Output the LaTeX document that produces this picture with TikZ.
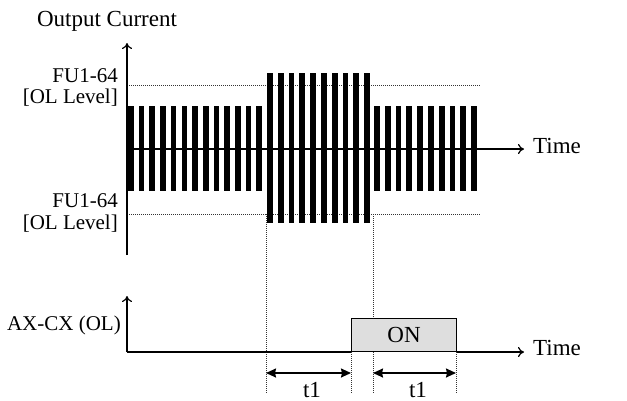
\documentclass[tikz,border=0pt]{standalone}
\usepackage{fontspec}
\setmainfont{Liberation Serif}
\usetikzlibrary{arrows.meta}
\begin{document}
\begin{tikzpicture}[x=1pt,y=-1pt,
  every node/.style={font=\fontsize{21}{25}\selectfont, inner sep=0pt},
  bigtext/.style={font=\fontsize{23}{27}\selectfont},
  axarrow/.style={line width=1.8pt,-{To[length=6pt,width=10pt,line width=1.2pt]}},
  timearrow/.style={line width=1.8pt,-{To[length=6pt,width=10pt,line width=1.2pt]}},
  plainline/.style={line width=1.8pt},
  dotline/.style={line width=0.9pt, dash pattern=on 1pt off 1pt, black!80},
  dimarrow/.style={line width=1.6pt,{Stealth[length=10pt,width=9pt,inset=1pt]}-{Stealth[length=10pt,width=9pt,inset=1pt]}},
  bar/.style={fill=black},
  onbox/.style={draw=black, line width=1.2pt, fill=black!13, minimum width=105pt, minimum height=33pt, anchor=south west, bigtext}]
\useasboundingbox (0,0) rectangle (627,400);
% coordinates
\coordinate (o1) at (127,255);
\coordinate (t1top) at (127,43);
\coordinate (m0) at (127,149);
\coordinate (m1) at (524,149);
\coordinate (o2) at (127,352);
\coordinate (t2top) at (127,296);
\coordinate (e2) at (524,352);
\coordinate (ul0) at (127,85);
\coordinate (ul1) at (480,85);
\coordinate (ll0) at (127,214);
\coordinate (ll1) at (480,214);
\coordinate (va0) at (266,214);
\coordinate (va1) at (266,393);
\coordinate (vb0) at (373,214);
\coordinate (vb1) at (373,393);
\coordinate (vc0) at (351,352);
\coordinate (vc1) at (351,393);
\coordinate (vd0) at (456,352);
\coordinate (vd1) at (456,393);
\coordinate (d1a) at (266,373);
\coordinate (d1b) at (351,373);
\coordinate (d2a) at (373,373);
\coordinate (d2b) at (456,373);
% dotted guides
\draw[dotline] (ul0) -- (ul1);
\draw[dotline] (ll0) -- (ll1);
\draw[dotline] (va0) -- (va1);
\draw[dotline] (vb0) -- (vb1);
\draw[dotline] (vc0) -- (vc1);
\draw[dotline] (vd0) -- (vd1);
% bars
\foreach \i in {0,...,12} { \fill[bar] (128+10.7*\i,106) rectangle ++(5.6,85); }
\foreach \i in {0,...,9} { \fill[bar] (267+10.8*\i,73) rectangle ++(5.7,150); }
\foreach \i in {0,...,9} { \fill[bar] (374+10.8*\i,106) rectangle ++(5.7,85); }
% axes
\draw[axarrow] (o1) -- (t1top);
\draw[timearrow] (m0) -- (m1);
\draw[axarrow] (o2) -- (t2top);
% ON box
\node[onbox] (on) at (351,352) {ON};
\draw[plainline] (o2) -- (on.south west);
\draw[timearrow] (on.south east) -- (e2);
% dimension arrows
\draw[dimarrow] (d1a) -- (d1b);
\draw[dimarrow] (d2a) -- (d2b);
% labels
\node[bigtext] (title) at (107,21) {Output Current};
\node[anchor=east] (fu1) at (118,76) {FU1-64};
\node[anchor=east] (ol1) at (118,98) {[OL Level]};
\node[anchor=east] (fu2) at (118,201) {FU1-64};
\node[anchor=east] (ol2) at (118,224) {[OL Level]};
\node[anchor=east] (ax) at (121,325) {AX-CX (OL)};
\node[anchor=west,bigtext] (time1) at (533,146) {Time};
\node[anchor=west,bigtext] (time2) at (533,348) {Time};
\node[bigtext] (t1a) at (312,390) {t1};
\node[bigtext] (t1b) at (418,390) {t1};
\end{tikzpicture}
\end{document}
